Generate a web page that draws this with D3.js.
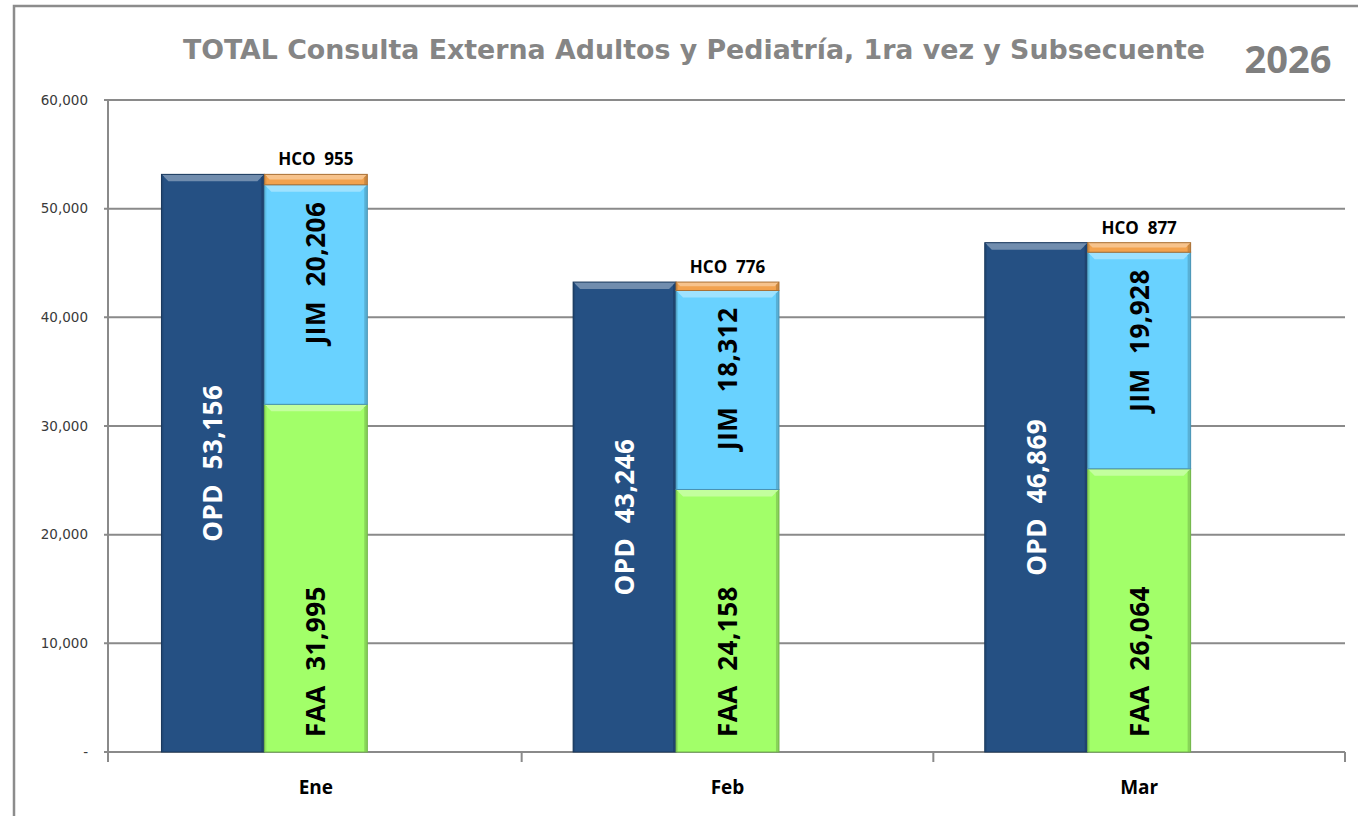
<!DOCTYPE html>
<html>
<head>
<meta charset="utf-8">
<script src="https://cdn.jsdelivr.net/npm/d3@7"></script>
<style>
  body { margin: 0; background: #fff; }
  svg { display: block; }
</style>
</head>
<body>
<svg id="chart" width="1358" height="816"></svg>
<script>
// values
var months = ["Ene", "Feb", "Mar"];
var opd = [53156, 43246, 46869];
var faa = [31995, 24158, 26064];
var jim = [20206, 18312, 19928];
var hco = [955, 776, 877];
var yTicks = [0, 10000, 20000, 30000, 40000, 50000, 60000];
var slots = ["OPD", "stack", "none"];

var colors = {
  OPD: "#255083",
  FAA: "#A2FF69",
  JIM: "#69D2FF",
  HCO: "#F2A24E"
};

var plot = {left: 108, right: 1345, top: 100, bottom: 752};

var svg = d3.select("#chart");
var fmt = d3.format(",");

//outer frame (only top and left edges are in the picture)
svg.append("path")
  .attr("d", "M14,816 L14,6 L1358,6")
  .attr("fill", "none")
  .attr("stroke", "#8c8c8c")
  .attr("stroke-width", 2.5);

//title
svg.append("text")
  .attr("x", 183).attr("y", 59)
  .attr("textLength", 1022)
  .attr("lengthAdjust", "spacingAndGlyphs")
  .style("font-family", "'DejaVu Sans Condensed', 'DejaVu Sans', sans-serif")
  .style("font-weight", "bold")
  .style("font-size", "27px")
  .attr("fill", "#858585")
  .text("TOTAL Consulta Externa Adultos y Pediatría, 1ra vez y Subsecuente");

svg.append("text")
  .attr("x", 1288).attr("y", 73)
  .attr("text-anchor", "middle")
  .style("font-family", "'Open Sans', sans-serif")
  .style("font-weight", "bold")
  .style("font-size", "38px")
  .attr("fill", "#7f7f7f")
  .text("2026");

var x0 = d3.scaleBand()
  .domain(months)
  .range([plot.left + 2, plot.right])
  .padding(0);

var x1 = d3.scaleBand()
  .domain(slots)
  .range([0, x0.bandwidth()])
  .paddingInner(0)
  .paddingOuter(0.5);

var y = d3.scaleLinear()
  .domain([0, 60000])
  .range([plot.bottom, plot.top]);

//gridlines
svg.append("g")
  .selectAll("line")
  .data(yTicks)
  .enter()
  .append("line")
    .attr("x1", plot.left - 4)
    .attr("x2", plot.right)
    .attr("y1", function(d) { return y(d); })
    .attr("y2", function(d) { return y(d); })
    .attr("stroke", "#8a8a8a")
    .attr("stroke-width", 2);

//y axis line and labels
svg.append("line")
  .attr("x1", plot.left).attr("x2", plot.left)
  .attr("y1", plot.top).attr("y2", plot.bottom + 10)
  .attr("stroke", "#8a8a8a")
  .attr("stroke-width", 2);

svg.append("g")
  .selectAll("text")
  .data(yTicks)
  .enter()
  .append("text")
    .attr("x", 88)
    .attr("y", function(d) { return y(d); })
    .attr("dy", "0.35em")
    .attr("text-anchor", "end")
    .style("font-family", "'DejaVu Sans', Verdana, sans-serif")
    .style("font-size", "13.5px")
    .attr("fill", "#3a3a3a")
    .text(function(d) { return d === 0 ? "-" : fmt(d); });

//x category ticks
var catEdges = [plot.left].concat(months.slice(1).map(function(m) { return x0(m); }), [plot.right]);
svg.append("g")
  .selectAll("line")
  .data(catEdges)
  .enter()
  .append("line")
    .attr("x1", function(d) { return d; })
    .attr("x2", function(d) { return d; })
    .attr("y1", plot.bottom)
    .attr("y2", plot.bottom + 10)
    .attr("stroke", "#8a8a8a")
    .attr("stroke-width", 2);

svg.append("g")
  .selectAll("text")
  .data(months)
  .enter()
  .append("text")
    .attr("x", function(d) { return x0(d) + x0.bandwidth() / 2; })
    .attr("y", 794)
    .attr("text-anchor", "middle")
    .style("font-family", "'Open Sans', sans-serif")
    .style("font-weight", "bold")
    .style("font-size", "19px")
    .attr("fill", "#000")
    .text(function(d) { return d; });

/* @bevelBar(g, x, y, w, h, color)
  - draws a rectangle with the excel style bevel: light top lip,
    darker right and bottom edges
*/
function bevelBar(g, bx, by, bw, bh, color) {
  var c = d3.color(color);
  var b = Math.min(7, bh / 2);
  g.append("rect")
    .attr("x", bx).attr("y", by)
    .attr("width", bw).attr("height", bh)
    .attr("fill", color);
  //top lip
  g.append("path")
    .attr("d", "M" + bx + "," + by + "L" + (bx + bw) + "," + by +
      "L" + (bx + bw - b) + "," + (by + b) + "L" + (bx + b) + "," + (by + b) + "Z")
    .attr("fill", d3.interpolateRgb(color, "#ffffff")(0.35));
  //right edge
  g.append("path")
    .attr("d", "M" + (bx + bw) + "," + by + "L" + (bx + bw) + "," + (by + bh) +
      "L" + (bx + bw - 3) + "," + (by + bh) + "L" + (bx + bw - 3) + "," + (by + Math.min(3, bh)) + "Z")
    .attr("fill", c.darker(0.5));
  //left edge
  g.append("path")
    .attr("d", "M" + bx + "," + by + "L" + bx + "," + (by + bh) +
      "L" + (bx + 2) + "," + (by + bh) + "L" + (bx + 2) + "," + (by + Math.min(2, bh)) + "Z")
    .attr("fill", c.darker(0.3));
  g.append("rect")
    .attr("x", bx).attr("y", by)
    .attr("width", bw).attr("height", bh)
    .attr("fill", "none")
    .attr("stroke", c.darker(1))
    .attr("stroke-width", 1);
}

var bars = svg.append("g");

//OPD bars
months.forEach(function(m, i) {
  bevelBar(bars, x0(m) + x1("OPD"), y(opd[i]), x1.bandwidth(), y(0) - y(opd[i]), colors.OPD);
});

//stacked FAA / JIM / HCO
var rows = months.map(function(m, i) {
  return {month: m, FAA: faa[i], JIM: jim[i], HCO: hco[i]};
});
var stack = d3.stack().keys(["FAA", "JIM", "HCO"])(rows);

stack.forEach(function(layer) {
  layer.forEach(function(d) {
    var bx = x0(d.data.month) + x1("stack");
    bevelBar(bars, bx, y(d[1]), x1.bandwidth(), y(d[0]) - y(d[1]), colors[layer.key]);
  });
});

//labels
var labels = svg.append("g")
  .style("font-family", "'Open Sans', sans-serif")
  .style("font-weight", "bold");

function rotLabel(cx, cy, anchor, fill, txt) {
  labels.append("text")
    .attr("transform", "translate(" + cx + "," + cy + ") rotate(-90)")
    .attr("text-anchor", anchor)
    .attr("dy", "0.36em")
    .style("font-size", "26px")
    .style("letter-spacing", "0.5px")
    .attr("fill", fill)
    .attr("xml:space", "preserve")
    .text(txt);
}

months.forEach(function(m, i) {
  var cOpd = x0(m) + x1("OPD") + x1.bandwidth() / 2;
  var cStk = x0(m) + x1("stack") + x1.bandwidth() / 2;
  rotLabel(cOpd, y(opd[i] / 2), "middle", "#ffffff", "OPD  " + fmt(opd[i]));
  rotLabel(cStk, y(0) - 15, "start", "#000", "FAA  " + fmt(faa[i]));
  rotLabel(cStk, y(faa[i] + jim[i]) + 17, "end", "#000", "JIM  " + fmt(jim[i]));
  labels.append("text")
    .attr("x", cStk)
    .attr("y", y(faa[i] + jim[i] + hco[i]) - 9)
    .attr("text-anchor", "middle")
    .style("font-size", "17px")
    .attr("fill", "#000")
    .attr("xml:space", "preserve")
    .text("HCO  " + fmt(hco[i]));
});
</script>
</body>
</html>
